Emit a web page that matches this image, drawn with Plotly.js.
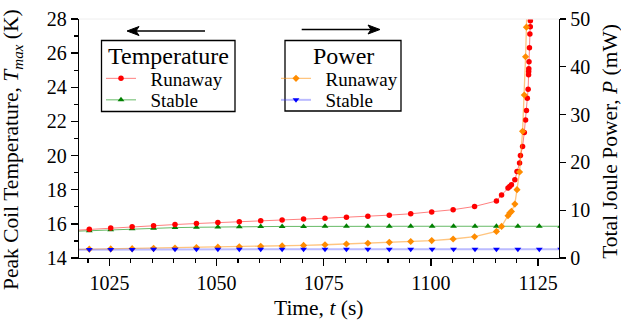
<!DOCTYPE html>
<html>
<head>
<meta charset="utf-8">
<script src="https://cdn.plot.ly/plotly-3.0.1.min.js"></script>
<style>
  html, body { margin: 0; padding: 0; background: #fff; }
  #chart { width: 621px; height: 322px; }
</style>
</head>
<body>
<div id="chart"></div>
<script>
// ---- Data ----
var tRunT = [1015.3, 1020.3, 1025.3, 1030.3, 1035.3, 1040.3, 1045.3, 1050.3, 1055.3, 1060.3,
             1065.3, 1070.3, 1075.3, 1080.3, 1085.3, 1090.3, 1095.3, 1100.2, 1105.2, 1110.2,
             1115.3, 1116.5, 1118.0, 1118.4, 1118.8, 1119.6, 1120.1, 1120.7, 1120.9, 1121.4,
             1121.8, 1122.1, 1122.3, 1122.5, 1122.7, 1122.8, 1122.82, 1122.85, 1122.9, 1123.0,
             1123.1, 1123.2, 1123.22, 1123.3];
var tempRunaway = [15.60, 15.68, 15.76, 15.83, 15.89, 15.96, 16.02, 16.08, 16.13, 16.18,
                   16.23, 16.28, 16.33, 16.38, 16.44, 16.51, 16.59, 16.69, 16.83, 17.02,
                   17.34, 17.69, 18.10, 18.19, 18.29, 18.58, 19.07, 19.56, 20.00, 20.53,
                   21.35, 22.09, 22.64, 23.36, 23.89, 24.73, 24.92, 25.08, 25.50, 26.32,
                   27.12, 27.55, 27.90, 28.40];

var tRunP = [1015.3, 1020.3, 1025.3, 1030.3, 1035.3, 1040.3, 1045.3, 1050.3, 1055.3, 1060.3,
             1065.3, 1070.3, 1075.3, 1080.3, 1085.3, 1090.3, 1095.3, 1100.2, 1105.2, 1110.2,
             1115.3, 1116.5, 1118.0, 1118.4, 1118.8, 1119.6, 1120.1, 1120.7, 1121.4, 1121.8,
             1122.1, 1122.3, 1122.5];
var powerRunaway = [1.78, 1.85, 1.90, 1.96, 2.02, 2.09, 2.18, 2.27, 2.36, 2.44,
                    2.53, 2.64, 2.77, 2.92, 3.08, 3.27, 3.45, 3.65, 3.97, 4.45,
                    5.56, 6.60, 8.84, 9.40, 9.74, 11.28, 14.30, 18.00, 26.50, 34.10,
                    42.10, 48.30, 56.00];

var tStable = [1015.3, 1020.3, 1025.3, 1030.3, 1035.3, 1040.3, 1045.3, 1050.3, 1055.3, 1060.3,
               1065.3, 1070.3, 1075.3, 1080.3, 1085.3, 1090.3, 1095.3, 1100.3, 1105.3, 1110.3,
               1115.3, 1120.3, 1125.3, 1130.3, 1135.3];
var tempStable = [15.55, 15.60, 15.66, 15.71, 15.75, 15.78, 15.80, 15.82, 15.83, 15.84,
                  15.85, 15.85, 15.86, 15.86, 15.86, 15.86, 15.86, 15.86, 15.86, 15.86,
                  15.86, 15.86, 15.86, 15.86, 15.86];
var powerStable = [1.74, 1.76, 1.78, 1.80, 1.81, 1.82, 1.83, 1.84, 1.84, 1.85,
                   1.85, 1.85, 1.85, 1.85, 1.85, 1.85, 1.85, 1.85, 1.85, 1.85,
                   1.85, 1.85, 1.85, 1.85, 1.85];

var legendTitles = ['Temperature', 'Power'];
var seriesNames = ['Runaway', 'Stable'];

var FONT = 'Liberation Serif';
var PAD = '\u00a0\u00a0';

var traces = [
  {
    x: tRunP, y: powerRunaway, yaxis: 'y2', name: PAD + seriesNames[0], legend: 'legend3',
    mode: 'lines+markers', type: 'scatter',
    line: {color: 'rgba(255,140,0,0.5)', width: 1.3},
    marker: {symbol: 'diamond', size: 5.5, color: '#ff8c00'}
  },
  {
    x: tStable, y: powerStable, yaxis: 'y2', name: PAD + seriesNames[1], legend: 'legend4',
    mode: 'lines+markers', type: 'scatter',
    line: {color: 'rgba(60,60,255,0.35)', width: 2},
    marker: {symbol: 'triangle-down', size: 6, color: '#0000ff'}
  },
  {
    x: tStable, y: tempStable, yaxis: 'y', name: PAD + seriesNames[1], legend: 'legend2',
    mode: 'lines+markers', type: 'scatter',
    line: {color: 'rgba(0,140,0,0.6)', width: 1},
    marker: {symbol: 'triangle-up', size: 6, color: '#008000'}
  },
  {
    x: tRunT, y: tempRunaway, yaxis: 'y', name: PAD + seriesNames[0], legend: 'legend',
    mode: 'lines+markers', type: 'scatter',
    line: {color: 'rgba(255,0,0,0.5)', width: 1},
    marker: {symbol: 'circle', size: 5.5, color: '#ff0000'}
  }
];

function px2x(p) { return (p - 79) / 480; }
function px2y(p) { return (258 - p) / 239; }

function mkLegend(xp, yp) {
  return {
    x: px2x(xp), y: px2y(yp), xanchor: 'left', yanchor: 'middle',
    borderwidth: 0, bgcolor: 'rgba(0,0,0,0)',
    font: {family: FONT, size: 19, color: '#000'},
    tracegroupgap: 0, itemwidth: 30
  };
}

var shapes = [
  {type: 'line', xref: 'paper', yref: 'paper', x0: 0, x1: 1, y0: 1, y1: 1,
   line: {color: '#eeeeee', width: 1}},
  // legend boxes
  {type: 'rect', xref: 'paper', yref: 'paper', x0: px2x(101.5), x1: px2x(235), y0: px2y(40.5), y1: px2y(111.5),
   fillcolor: '#fff', line: {color: '#000', width: 1.3}, layer: 'above'},
  {type: 'rect', xref: 'paper', yref: 'paper', x0: px2x(285), x1: px2x(401), y0: px2y(40.5), y1: px2y(111),
   fillcolor: '#fff', line: {color: '#000', width: 1.3}, layer: 'above'},
  // left arrow
  {type: 'line', xref: 'paper', yref: 'paper', x0: px2x(205), x1: px2x(136), y0: px2y(31), y1: px2y(31),
   line: {color: '#000', width: 1.6}},
  {type: 'path', xref: 'paper', yref: 'paper',
   path: 'M' + px2x(127) + ',' + px2y(31) + ' L' + px2x(139) + ',' + px2y(26.5) +
         ' L' + px2x(136) + ',' + px2y(31) + ' L' + px2x(139) + ',' + px2y(35.5) + ' Z',
   fillcolor: '#000', line: {color: '#000', width: 1}},
  // right arrow
  {type: 'line', xref: 'paper', yref: 'paper', x0: px2x(301.7), x1: px2x(371), y0: px2y(29.5), y1: px2y(29.5),
   line: {color: '#000', width: 1.6}},
  {type: 'path', xref: 'paper', yref: 'paper',
   path: 'M' + px2x(380) + ',' + px2y(29.5) + ' L' + px2x(368) + ',' + px2y(25) +
         ' L' + px2x(371) + ',' + px2y(29.5) + ' L' + px2x(368) + ',' + px2y(34) + ' Z',
   fillcolor: '#000', line: {color: '#000', width: 1}}
];

var layout = {
  width: 621, height: 322,
  margin: {l: 79, r: 62, t: 19, b: 64, pad: 0},
  paper_bgcolor: '#fff', plot_bgcolor: '#fff',
  font: {family: FONT, size: 20, color: '#000'},
  xaxis: {
    range: [1017.9, 1129.9], tick0: 1025, dtick: 25,
    ticks: 'outside', ticklen: 7, tickwidth: 1.3, tickcolor: '#000',
    minor: {dtick: 5, ticks: 'outside', ticklen: 4, tickcolor: '#000', tickwidth: 1.2},
    showline: true, linecolor: '#000', linewidth: 1.3,
    showgrid: false, zeroline: false,
    tickfont: {family: FONT, size: 20, color: '#000'}
  },
  yaxis: {
    range: [14, 28], dtick: 2,
    ticks: 'outside', ticklen: 7, tickwidth: 1.3, tickcolor: '#000',
    minor: {dtick: 1, ticks: 'outside', ticklen: 4, tickcolor: '#000', tickwidth: 1.2},
    showline: true, linecolor: '#000', linewidth: 1.3,
    showgrid: false, zeroline: false,
    tickfont: {family: FONT, size: 20, color: '#000'}
  },
  yaxis2: {
    range: [0, 50], dtick: 10, overlaying: 'y', side: 'right',
    ticks: 'outside', ticklen: 6, tickwidth: 1.3, tickcolor: '#000',
    showline: true, linecolor: '#000', linewidth: 1.3,
    showgrid: false, zeroline: false,
    tickfont: {family: FONT, size: 20, color: '#000'}
  },
  legend: mkLegend(101, 78.5),
  legend2: mkLegend(101, 100),
  legend3: mkLegend(276, 78.5),
  legend4: mkLegend(276, 100),
  shapes: shapes,
  annotations: [
    {xref: 'paper', yref: 'paper', x: px2x(168), y: px2y(55.5), xanchor: 'center', yanchor: 'middle',
     showarrow: false, text: legendTitles[0], font: {family: FONT, size: 24, color: '#000'}},
    {xref: 'paper', yref: 'paper', x: px2x(343), y: px2y(55.5), xanchor: 'center', yanchor: 'middle',
     showarrow: false, text: legendTitles[1], font: {family: FONT, size: 24, color: '#000'}},
    {xref: 'paper', yref: 'paper', x: -0.1375, y: 0.452, textangle: -90,
     xanchor: 'center', yanchor: 'middle', showarrow: false,
     text: 'Peak Coil Temperature, <i>T</i><sub><i>max</i></sub> (K)',
     font: {family: FONT, size: 21.5, color: '#000'}},
    {xref: 'paper', yref: 'paper', x: 1.106, y: 0.49, textangle: -90,
     xanchor: 'center', yanchor: 'middle', showarrow: false,
     text: 'Total Joule Power, <i>P</i> (mW)',
     font: {family: FONT, size: 21.5, color: '#000'}},
    {xref: 'paper', yref: 'paper', x: 0.499, y: -0.209,
     xanchor: 'center', yanchor: 'middle', showarrow: false,
     text: 'Time, <i>t</i> (s)',
     font: {family: FONT, size: 21.5, color: '#000'}}
  ],
  showlegend: true
};

Plotly.newPlot('chart', traces, layout, {staticPlot: true, displayModeBar: false});
</script>
</body>
</html>
